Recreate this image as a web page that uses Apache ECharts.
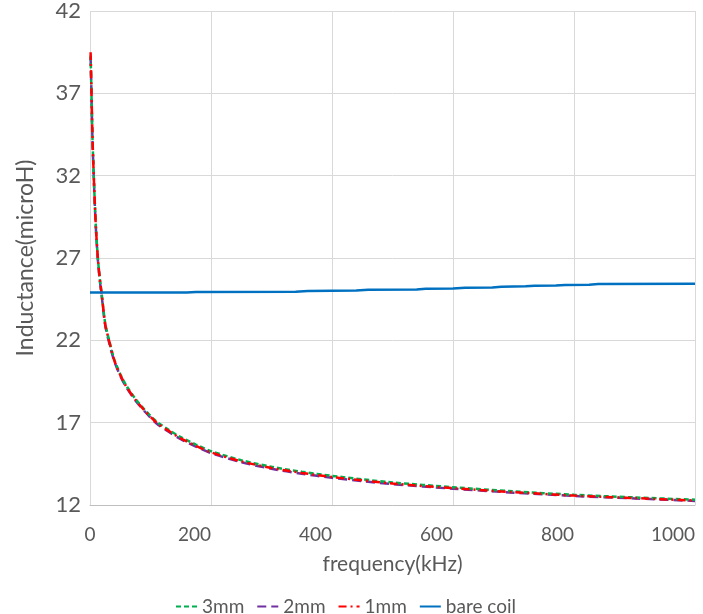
<!DOCTYPE html>
<html>
<head>
<meta charset="utf-8">
<script src="https://cdn.jsdelivr.net/npm/echarts@6/dist/echarts.min.js"></script>
<style>
html,body{margin:0;padding:0;background:#fff;}
#chart{width:703px;height:614px;}
</style>
</head>
<body>
<div id="chart"></div>
<script>
// ---- data ----
var seriesNames = ['3mm', '2mm', '1mm', 'bare coil'];
var freq = [1, 2.5, 4, 6, 8, 10, 13, 16, 19, 25, 30, 40, 50, 60, 75, 90, 110, 130, 150, 175, 200, 250, 300, 350, 400, 450, 500, 600, 700, 800, 900, 1000];
var l3mm = [39.3, 36.9, 34.4, 32.2, 30.3, 28.7, 27.0, 25.8, 24.9, 23.05, 22.25, 20.85, 19.95, 19.25, 18.45, 17.8, 17.07, 16.57, 16.12, 15.67, 15.27, 14.72, 14.32, 14.02, 13.77, 13.56, 13.37, 13.08, 12.83, 12.62, 12.46, 12.32];
var l2mm = [39.2, 36.8, 34.3, 32.1, 30.2, 28.6, 26.9, 25.7, 24.8, 22.95, 22.1, 20.75, 19.85, 19.15, 18.35, 17.7, 16.95, 16.45, 16.0, 15.55, 15.15, 14.6, 14.2, 13.9, 13.65, 13.45, 13.27, 12.99, 12.75, 12.55, 12.4, 12.25];
var l1mm = [39.5, 37.0, 34.5, 32.2, 30.3, 28.7, 27.0, 25.8, 24.9, 23.0, 22.2, 20.8, 19.9, 19.2, 18.4, 17.75, 17.0, 16.5, 16.05, 15.6, 15.2, 14.65, 14.25, 13.95, 13.7, 13.5, 13.3, 13.02, 12.78, 12.57, 12.42, 12.27];
var bareFreq = [0, 160, 175, 340, 360, 440, 460, 540, 555, 600, 620, 665, 680, 720, 735, 770, 785, 825, 840, 1000];
var bareVals = [24.9, 24.9, 24.93, 24.95, 25.0, 25.02, 25.07, 25.09, 25.13, 25.15, 25.19, 25.21, 25.26, 25.28, 25.31, 25.33, 25.36, 25.38, 25.42, 25.44];
var yTicks = [12, 17, 22, 27, 32, 37, 42];
var xTicks = [0, 200, 400, 600, 800, 1000];

function pairs(xs, ys) { return xs.map(function (x, i) { return [x, ys[i]]; }); }

var FONT = 'Lato, "Open Sans", sans-serif';
var TXT = '#595959';
var chart = echarts.init(document.getElementById('chart'), null, {renderer: 'canvas'});
chart.setOption({
  animation: false,
  backgroundColor: '#ffffff',
  textStyle: {fontFamily: FONT},
  grid: {left: 90, right: 8, top: 11, bottom: 109, containLabel: false},
  legend: {
    left: 170, top: 592,
    itemWidth: 21, itemHeight: 12, itemGap: 12,
    itemStyle: {opacity: 0},
    textStyle: {fontSize: 19, color: TXT, fontFamily: FONT},
    data: seriesNames
  },
  xAxis: {
    type: 'value', min: xTicks[0], max: xTicks[xTicks.length - 1], interval: 200,
    name: 'frequency(kHz)', nameLocation: 'middle', nameGap: 49,
    nameTextStyle: {fontSize: 21, color: TXT, fontFamily: FONT},
    axisLine: {show: true, lineStyle: {color: '#bfbfbf', width: 1}},
    axisTick: {show: false},
    axisLabel: {fontSize: 19, color: TXT, margin: 20, align: 'right',
      alignMinLabel: 'center', alignMaxLabel: 'right', fontFamily: FONT,
      formatter: function (v) { return String(v); }},
    splitLine: {show: true, lineStyle: {color: '#d9d9d9', width: 1}}
  },
  yAxis: {
    type: 'value', min: yTicks[0], max: yTicks[yTicks.length - 1], interval: 5,
    name: 'Inductance(microH)', nameLocation: 'middle', nameGap: 53,
    nameTextStyle: {fontSize: 23, color: TXT, fontFamily: FONT},
    axisLine: {show: false},
    axisTick: {show: false},
    axisLabel: {fontSize: 22, color: TXT, margin: 9, fontFamily: FONT},
    splitLine: {show: true, lineStyle: {color: '#d9d9d9', width: 1}}
  },
  series: [
    {name: '3mm', type: 'line', symbol: 'none', smooth: 0.3, data: pairs(freq, l3mm), z: 3,
     itemStyle: {color: '#00B050'}, lineStyle: {color: '#00B050', width: 2.5, type: [5, 3]}},
    {name: '2mm', type: 'line', symbol: 'none', smooth: 0.3, data: pairs(freq, l2mm), z: 2,
     itemStyle: {color: '#7030A0'}, lineStyle: {color: '#7030A0', width: 2.5, type: [9, 5]}},
    {name: '1mm', type: 'line', symbol: 'none', smooth: 0.3, data: pairs(freq, l1mm), z: 4,
     itemStyle: {color: '#FF0000'}, lineStyle: {color: '#FF0000', width: 2.5, type: [8, 4, 2, 4]}},
    {name: 'bare coil', type: 'line', symbol: 'none', data: pairs(bareFreq, bareVals), z: 5,
     itemStyle: {color: '#0070C0'}, lineStyle: {color: '#0070C0', width: 2.5, type: 'solid'}}
  ]
});
</script>
</body>
</html>
